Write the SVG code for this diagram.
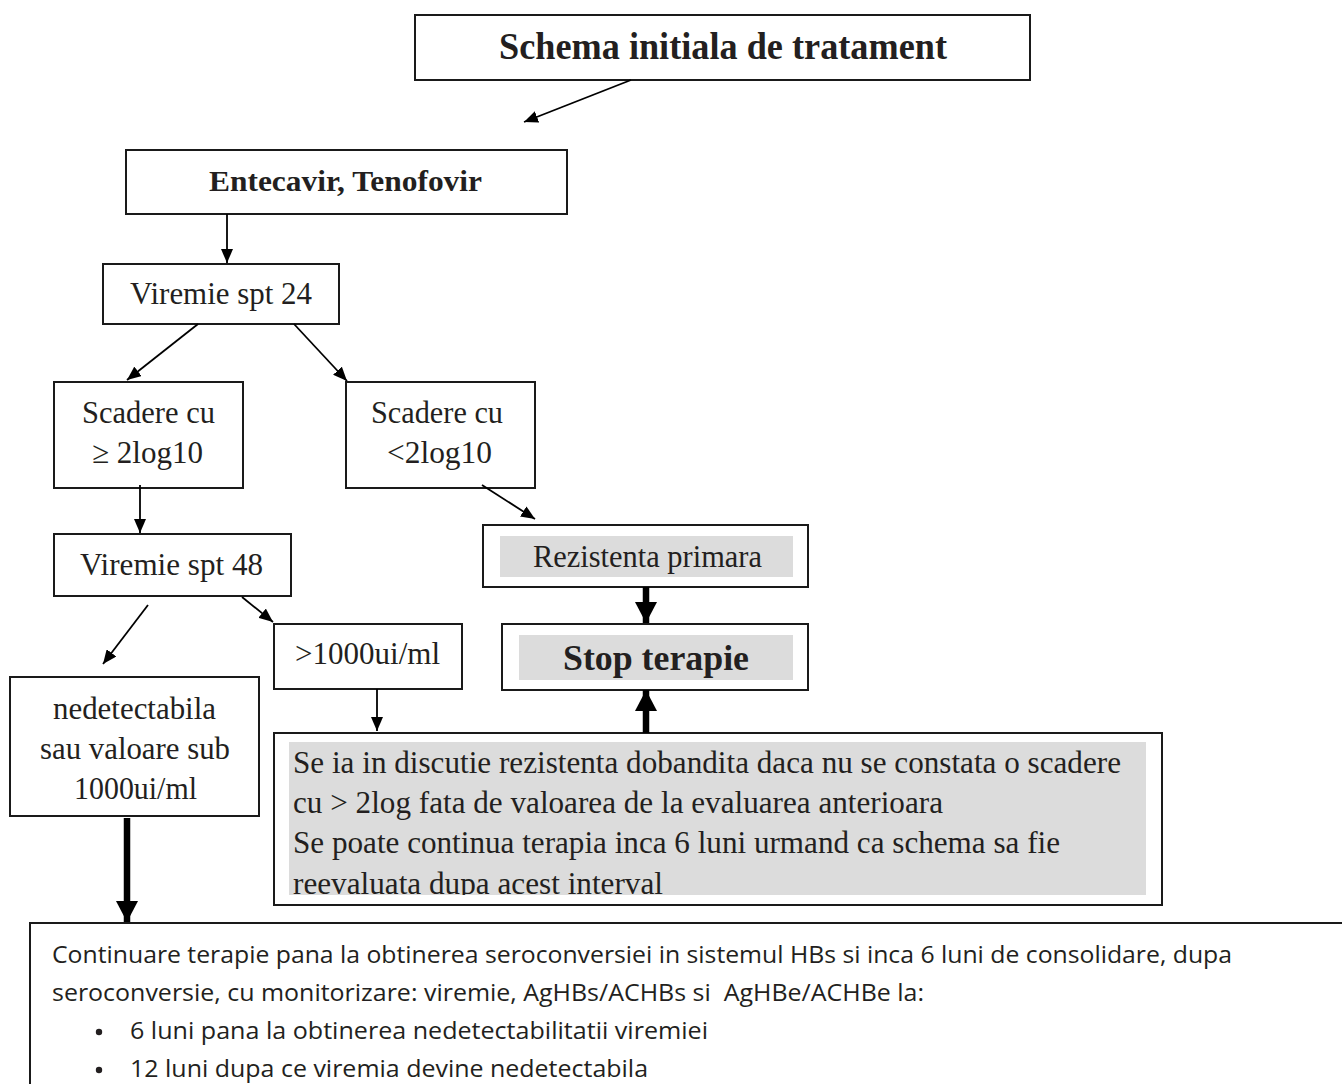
<svg xmlns="http://www.w3.org/2000/svg" width="1342" height="1084" viewBox="0 0 1342 1084">
<style>
.box{fill:#fff;stroke:#1a1a1a;stroke-width:2}
.gray{fill:#dcdcdc}
.t{font-family:"Liberation Serif","Times New Roman",serif;fill:#231f20;text-anchor:middle;font-size:31px}
.b{font-weight:bold}
.tl{font-family:"Liberation Serif","Times New Roman",serif;fill:#231f20;font-size:31px}
.s{font-family:"Open Sans","Liberation Sans",sans-serif;fill:#231f20;font-size:24px}
.ln{stroke:#000;stroke-width:1.8;fill:none}
.thick{stroke:#000;stroke-width:6.5;fill:none}
</style>
<defs>
<marker id="ah" viewBox="0 0 14 12" refX="14" refY="6" markerWidth="14" markerHeight="12" markerUnits="userSpaceOnUse" orient="auto"><path d="M0,0 L14,6 L0,12 z" fill="#000"/></marker>
<marker id="ahb" viewBox="0 0 21 22" refX="21" refY="11" markerWidth="21" markerHeight="22" markerUnits="userSpaceOnUse" orient="auto"><path d="M0,0 L21,11 L0,22 z" fill="#000"/></marker>
<clipPath id="gclip"><rect x="289" y="742" width="857" height="153"/></clipPath>
</defs>

<g id="n-schema">
<rect class="box" x="415" y="15" width="615" height="65"/>
<text class="t b" x="723" y="59" style="font-size:37px" textLength="448" lengthAdjust="spacingAndGlyphs">Schema initiala de tratament</text>
</g>
<g id="n-entecavir">
<rect class="box" x="126" y="150" width="441" height="64"/>
<text class="t b" x="345.5" y="191" style="font-size:30px" textLength="273" lengthAdjust="spacingAndGlyphs">Entecavir, Tenofovir</text>
</g>
<g id="n-viremie24">
<rect class="box" x="103" y="264" width="236" height="60"/>
<text class="t" x="221" y="304" textLength="182" lengthAdjust="spacingAndGlyphs">Viremie spt 24</text>
</g>
<g id="n-scadere-ge">
<rect class="box" x="54" y="382" width="189" height="106"/>
<text class="t" x="148.5" y="423" textLength="133" lengthAdjust="spacingAndGlyphs">Scadere cu</text>
<text class="t" x="147.5" y="463" textLength="111" lengthAdjust="spacingAndGlyphs">≥ 2log10</text>
</g>
<g id="n-scadere-lt">
<rect class="box" x="346" y="382" width="189" height="106"/>
<text class="t" x="437" y="423" textLength="132" lengthAdjust="spacingAndGlyphs">Scadere cu</text>
<text class="t" x="439.5" y="463" textLength="105" lengthAdjust="spacingAndGlyphs">&lt;2log10</text>
</g>
<g id="n-viremie48">
<rect class="box" x="54" y="534" width="237" height="62"/>
<text class="t" x="171.5" y="575" textLength="183" lengthAdjust="spacingAndGlyphs">Viremie spt 48</text>
</g>
<g id="n-gt1000">
<rect class="box" x="274" y="624" width="188" height="65"/>
<text class="t" x="367.5" y="664" textLength="145" lengthAdjust="spacingAndGlyphs">&gt;1000ui/ml</text>
</g>
<g id="n-nedetectabila">
<rect class="box" x="10" y="677" width="249" height="139"/>
<text class="t" x="134.5" y="719" textLength="163" lengthAdjust="spacingAndGlyphs">nedetectabila</text>
<text class="t" x="135" y="759" textLength="190" lengthAdjust="spacingAndGlyphs">sau valoare sub</text>
<text class="t" x="135.5" y="799" textLength="123" lengthAdjust="spacingAndGlyphs">1000ui/ml</text>
</g>
<g id="n-rezistenta">
<rect class="box" x="483" y="525" width="325" height="62"/>
<rect class="gray" x="500" y="536" width="293" height="41"/>
<text class="t" x="647.5" y="567" textLength="229" lengthAdjust="spacingAndGlyphs">Rezistenta primara</text>
</g>
<g id="n-stop">
<rect class="box" x="502" y="624" width="306" height="66"/>
<rect class="gray" x="519" y="635" width="274" height="45"/>
<text class="t b" x="656" y="670" style="font-size:36px" textLength="186" lengthAdjust="spacingAndGlyphs">Stop terapie</text>
</g>
<g id="n-discutie">
<rect class="box" x="274" y="733" width="888" height="172"/>
<rect class="gray" x="289" y="742" width="857" height="153"/>
<g clip-path="url(#gclip)">
<text class="tl" x="293" y="773" textLength="828" lengthAdjust="spacingAndGlyphs">Se ia in discutie rezistenta dobandita daca nu se constata o scadere</text>
<text class="tl" x="293" y="813" textLength="650" lengthAdjust="spacingAndGlyphs">cu &gt; 2log fata de valoarea de la evaluarea anterioara</text>
<text class="tl" x="293" y="853" textLength="767" lengthAdjust="spacingAndGlyphs">Se poate continua terapia inca 6 luni urmand ca schema sa fie</text>
<text class="tl" x="293" y="894" textLength="370" lengthAdjust="spacingAndGlyphs">reevaluata dupa acest interval</text>
</g>
</g>
<g id="n-continuare">
<rect class="box" x="30" y="923" width="1330" height="200"/>
<text class="s" x="52" y="963" textLength="1180" lengthAdjust="spacingAndGlyphs">Continuare terapie pana la obtinerea seroconversiei in sistemul HBs si inca 6 luni de consolidare, dupa</text>
<text class="s" x="52" y="1001" textLength="872" lengthAdjust="spacingAndGlyphs" xml:space="preserve">seroconversie, cu monitorizare: viremie, AgHBs/ACHBs si  AgHBe/ACHBe la:</text>
<circle cx="99" cy="1032" r="3.2" fill="#231f20"/>
<text class="s" x="130" y="1039" textLength="578" lengthAdjust="spacingAndGlyphs">6 luni pana la obtinerea nedetectabilitatii viremiei</text>
<circle cx="99" cy="1070" r="3.2" fill="#231f20"/>
<text class="s" x="130" y="1077" textLength="518" lengthAdjust="spacingAndGlyphs">12 luni dupa ce viremia devine nedetectabila</text>
</g>

<g id="connectors">
<line class="ln" x1="631" y1="80" x2="524" y2="122" marker-end="url(#ah)"/>
<line class="ln" x1="227" y1="214" x2="227" y2="263" marker-end="url(#ah)"/>
<line class="ln" x1="198" y1="324" x2="127" y2="380" marker-end="url(#ah)"/>
<line class="ln" x1="294" y1="324" x2="347" y2="381" marker-end="url(#ah)"/>
<line class="ln" x1="140" y1="485" x2="140" y2="533" marker-end="url(#ah)"/>
<line class="ln" x1="482" y1="485" x2="535" y2="519" marker-end="url(#ah)"/>
<line class="ln" x1="242" y1="597" x2="273" y2="622" marker-end="url(#ah)"/>
<line class="ln" x1="148" y1="605" x2="103" y2="664" marker-end="url(#ah)"/>
<line class="ln" x1="377" y1="689" x2="377" y2="731" marker-end="url(#ah)"/>
<line class="thick" x1="646" y1="587" x2="646" y2="623" marker-end="url(#ahb)"/>
<line class="thick" x1="646" y1="733" x2="646" y2="690" marker-end="url(#ahb)"/>
<line class="thick" x1="127" y1="818" x2="127" y2="922" marker-end="url(#ahb)"/>
</g>
</svg>
